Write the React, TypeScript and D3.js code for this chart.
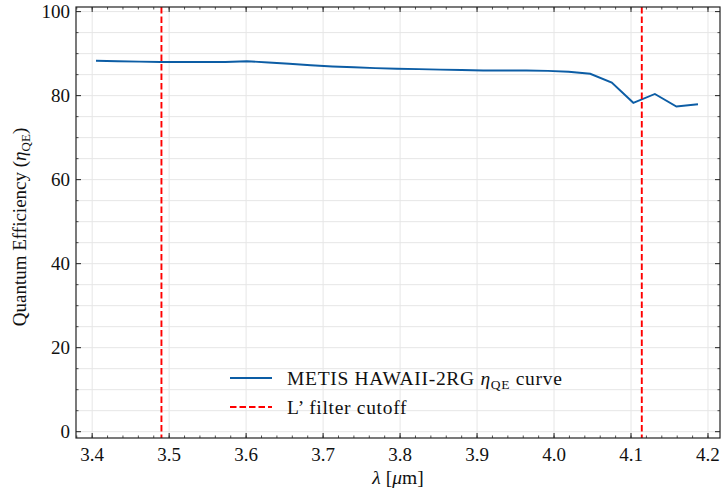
import React from 'react';
import * as d3 from 'd3';

// wavelength (um) and quantum efficiency (%)
const wavelength = [
  3.405, 3.433, 3.461, 3.489, 3.517, 3.545, 3.573, 3.601, 3.629, 3.656,
  3.684, 3.712, 3.740, 3.768, 3.796, 3.824, 3.852, 3.880, 3.908, 3.936,
  3.964, 3.992, 4.019, 4.047, 4.075, 4.103, 4.131, 4.159, 4.187,
];
const qe = [
  88.3, 88.2, 88.1, 88.0, 88.0, 88.0, 88.0, 88.2, 87.9, 87.6,
  87.25, 86.95, 86.75, 86.55, 86.4, 86.3, 86.2, 86.1, 86.0, 86.0,
  86.0, 85.9, 85.7, 85.2, 83.1, 78.3, 80.4, 77.4, 77.95,
];
const cutoffs = [3.49, 4.114];
const xTicks = [3.4, 3.5, 3.6, 3.7, 3.8, 3.9, 4.0, 4.1, 4.2];
const yTicks = [0, 20, 40, 60, 80, 100];

const W = 721;
const H = 490;
const font = '"Liberation Serif", "DejaVu Serif", serif';
const fs = 19.5;

export default function App() {
  const left = 76, right = 720, top = 7, bottom = 438;
  const x = d3.scaleLinear().domain([3.379, 4.2156]).range([left, right]);
  const y = d3.scaleLinear().domain([-1.5, 101.1]).range([bottom, top]);

  const xMinor = d3.range(3.38, 4.22, 0.02).filter(v => x(v) > left && x(v) < right);
  const yMinor = d3.range(0, 101, 5);

  const line = d3.line<number>()
    .x((_, i) => x(wavelength[i]))
    .y(d => y(d));

  const tickCol = '#222';

  return (
    <svg width={W} height={H} style={{ position: 'absolute', left: 0, top: 0, background: '#fff' }}
      fontFamily={font}>
      {/* grid */}
      {yMinor.map(v => (
        <line key={'gy' + v} x1={left} x2={right} y1={y(v)} y2={y(v)} stroke="#e6e6e6" strokeWidth={1} />
      ))}
      {xTicks.map(v => (
        <line key={'gx' + v} x1={x(v)} x2={x(v)} y1={top} y2={bottom} stroke="#e6e6e6" strokeWidth={1} />
      ))}

      {/* data */}
      <path d={line(qe) || ''} fill="none" stroke="#0C5DA5" strokeWidth={1.9} />
      {cutoffs.map(c => (
        <line key={'c' + c} x1={x(c)} x2={x(c)} y1={top} y2={bottom}
          stroke="#ff0000" strokeWidth={1.9} strokeDasharray="6.5,3" />
      ))}

      {/* ticks, inward on all sides */}
      {xTicks.map(v => (
        <g key={'xt' + v}>
          <line x1={x(v)} x2={x(v)} y1={bottom} y2={bottom - 5} stroke={tickCol} strokeWidth={1} />
          <line x1={x(v)} x2={x(v)} y1={top} y2={top + 5} stroke={tickCol} strokeWidth={1} />
          <text x={x(v)} y={461} textAnchor="middle" fontSize={19} fill="#111">{v.toFixed(1)}</text>
        </g>
      ))}
      {xMinor.map(v => (
        <g key={'xm' + v}>
          <line x1={x(v)} x2={x(v)} y1={bottom} y2={bottom - 2.5} stroke={tickCol} strokeWidth={0.8} />
          <line x1={x(v)} x2={x(v)} y1={top} y2={top + 2.5} stroke={tickCol} strokeWidth={0.8} />
        </g>
      ))}
      {yTicks.map(v => (
        <g key={'yt' + v}>
          <line x1={left} x2={left + 5} y1={y(v)} y2={y(v)} stroke={tickCol} strokeWidth={1} />
          <line x1={right} x2={right - 5} y1={y(v)} y2={y(v)} stroke={tickCol} strokeWidth={1} />
          <text x={70} y={y(v)} dy="0.35em" textAnchor="end" fontSize={19} fill="#111">{v}</text>
        </g>
      ))}
      {yMinor.filter(v => v % 20 !== 0).map(v => (
        <g key={'ym' + v}>
          <line x1={left} x2={left + 2.5} y1={y(v)} y2={y(v)} stroke={tickCol} strokeWidth={0.8} />
          <line x1={right} x2={right - 2.5} y1={y(v)} y2={y(v)} stroke={tickCol} strokeWidth={0.8} />
        </g>
      ))}

      {/* frame */}
      <rect x={left} y={top} width={right - left} height={bottom - top} fill="none" stroke="#222" strokeWidth={1.2} />

      {/* legend */}
      <line x1={230} x2={272} y1={378} y2={378} stroke="#0C5DA5" strokeWidth={1.9} />
      <text x={287} y={385} fontSize={fs} fill="#111" letterSpacing={0.7}>
        METIS HAWAII-2RG <tspan fontStyle="italic">η</tspan>
        <tspan fontSize={13.5} dy={4}>QE</tspan>
        <tspan dy={-4}> curve</tspan>
      </text>
      <line x1={230} x2={272} y1={407} y2={407} stroke="#ff0000" strokeWidth={1.9} strokeDasharray="6.5,3" />
      <text x={287} y={414} fontSize={fs} fill="#111" letterSpacing={0.7}>L’ filter cutoff</text>

      {/* axis labels */}
      <text x={398} y={484} textAnchor="middle" fontSize={fs} fill="#111">
        <tspan fontStyle="italic">λ</tspan> [<tspan fontStyle="italic">μ</tspan>m]
      </text>
      <text transform={`translate(26, 227) rotate(-90)`} textAnchor="middle" fontSize={19} fill="#111">
        Quantum Efficiency (<tspan fontStyle="italic">η</tspan>
        <tspan fontSize={13} dy={4}>QE</tspan>
        <tspan dy={-4}>)</tspan>
      </text>
    </svg>
  );
}
